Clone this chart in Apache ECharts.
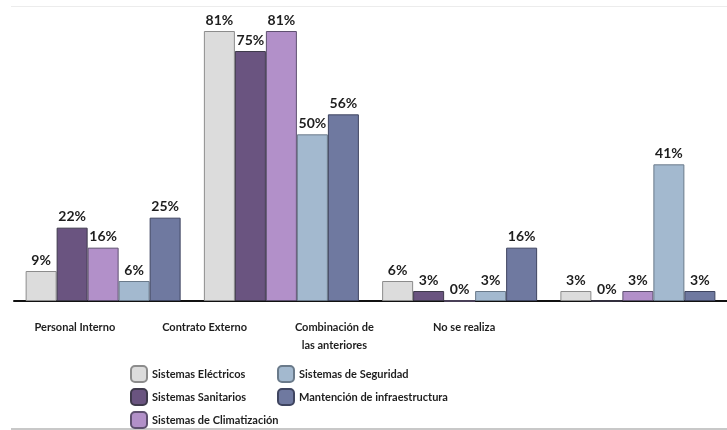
<!DOCTYPE html>
<html>
<head>
<meta charset="utf-8">
<script src="https://cdn.jsdelivr.net/npm/echarts@6/dist/echarts.min.js"></script>
<style>
  html, body { margin: 0; padding: 0; background: #fff; }
  #chart { width: 727px; height: 430px; }
</style>
</head>
<body>
<div id="chart"></div>
<script>
// Tipo de mantención por sistema (% de establecimientos)
const categories = ['Personal Interno', 'Contrato Externo', 'Combinación de\nlas anteriores', 'No se realiza'];
const seriesNames = [
  'Sistemas Eléctricos',
  'Sistemas Sanitarios',
  'Sistemas de Climatización',
  'Sistemas de Seguridad',
  'Mantención de infraestructura'
];
const electricos      = [9, 81, 6, 3];
const sanitarios      = [22, 75, 3, 0];
const climatizacion   = [16, 81, 0, 3];
const seguridad       = [6, 50, 3, 41];
const infraestructura = [25, 56, 16, 3];

const values = [electricos, sanitarios, climatizacion, seguridad, infraestructura];
const fills = ['#dcdcdc', '#6a5480', '#b290c9', '#a3b9cf', '#6f79a0'];
const edges = ['#8c8c8c', '#3f3a4c', '#5e5070', '#6a7a8a', '#3f4560'];

const textFont = "Lato, 'Liberation Sans', sans-serif";

const chart = echarts.init(document.getElementById('chart'));

const series = seriesNames.map((name, i) => ({
  name: name,
  type: 'bar',
  xAxisIndex: 0,
  yAxisIndex: 0,
  data: values[i],
  barGap: '0%',
  barWidth: 31,
  itemStyle: { color: fills[i], borderColor: edges[i], borderWidth: 1 },
  label: {
    show: true,
    position: 'top',
    distance: 4,
    formatter: '{c}%',
    color: '#1e1e1e',
    fontFamily: textFont,
    fontWeight: 'bold',
    fontSize: 14
  },
  emphasis: { disabled: true },
  animation: false
}));

const legendText = { fontFamily: textFont, fontWeight: 'bold', fontSize: 11, color: '#1e1e1e' };

chart.setOption({
  animation: false,
  grid: [
    { left: 14, top: 1, width: 722, height: 300 },
    { left: 10, top: 1, width: 519, height: 300 }
  ],
  xAxis: [
    {
      type: 'category',
      gridIndex: 0,
      data: categories,
      axisLine: { show: true, lineStyle: { color: '#111', width: 2 } },
      axisTick: { show: false },
      axisLabel: { show: false }
    },
    {
      type: 'category',
      gridIndex: 1,
      data: categories,
      axisLine: { show: false },
      axisTick: { show: false },
      axisLabel: {
        show: true,
        interval: 0,
        margin: 17,
        fontFamily: textFont,
        fontWeight: 'bold',
        fontSize: 11,
        lineHeight: 18,
        color: '#1e1e1e'
      }
    }
  ],
  yAxis: [
    { type: 'value', gridIndex: 0, min: 0, max: 90, show: false },
    { type: 'value', gridIndex: 1, min: 0, max: 90, show: false }
  ],
  legend: [
    {
      orient: 'vertical',
      left: 130,
      top: 365,
      height: 80,
      padding: 0,
      itemWidth: 16,
      itemHeight: 16,
      itemGap: 5,
      data: seriesNames.slice(0, 3),
      textStyle: legendText,
      selectedMode: false
    },
    {
      orient: 'vertical',
      left: 277,
      top: 365,
      height: 80,
      padding: 0,
      itemWidth: 16,
      itemHeight: 16,
      itemGap: 5,
      data: seriesNames.slice(3),
      textStyle: legendText,
      selectedMode: false
    }
  ],
  graphic: [
    { type: 'line', shape: { x1: 11, y1: 6.5, x2: 727, y2: 6.5 }, style: { stroke: '#ececec', lineWidth: 1 }, silent: true },
    { type: 'line', shape: { x1: 11, y1: 429, x2: 727, y2: 429 }, style: { stroke: '#c8c8c8', lineWidth: 2 }, silent: true }
  ],
  series: series
});
</script>
</body>
</html>
